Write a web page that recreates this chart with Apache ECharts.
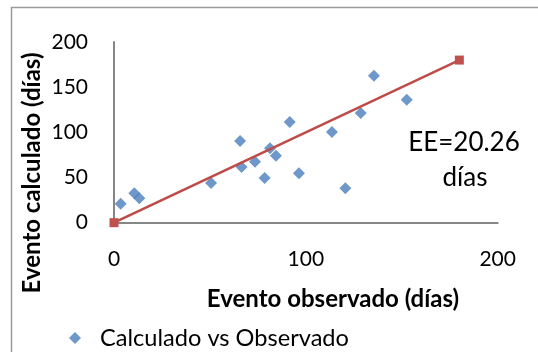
<!DOCTYPE html>
<html>
<head>
<meta charset="utf-8">
<script src="https://cdn.jsdelivr.net/npm/echarts@6/dist/echarts.min.js"></script>
<style>
html,body{margin:0;padding:0;background:#fff;}
#chart{width:538px;height:352px;}
</style>
</head>
<body>
<div id="chart"></div>
<script>
// Data
const observed   = [3.5, 10.6, 13.2, 50.6, 65.7, 66.5, 73.5, 78.5, 81.3, 84.4, 91.6, 96.4, 113.6, 120.6, 128.6, 135.5, 152.6];
const calculated = [21, 32.5, 27, 44, 90.4, 61.6, 67.5, 49.5, 82.3, 74.2, 111.5, 54.7, 100.4, 38, 121.4, 162.7, 136.1];
const lineX = [0, 180];
const lineY = [0, 180];
const xTicks = [0, 100, 200];
const yTicks = [0, 50, 100, 150, 200];
const seriesName = 'Calculado vs Observado';
const xTitle = 'Evento observado (días)';
const yTitle = 'Evento calculado (días)';
const annotation = ['EE=20.26', 'días'];

const FONT = 'Lato';
const chart = echarts.init(document.getElementById('chart'), null, {renderer: 'canvas'});
chart.setOption({
  animation: false,
  backgroundColor: '#fff',
  textStyle: {fontFamily: FONT},
  grid: {left: 114, top: 42, width: 383.7, height: 180.7, containLabel: false},
  xAxis: {
    type: 'value', min: xTicks[0], max: xTicks[xTicks.length - 1], interval: 100,
    axisLine: {show: true, onZero: false, lineStyle: {color: '#868686', width: 2}},
    axisTick: {show: false},
    splitLine: {show: false},
    axisLabel: {fontFamily: FONT, fontSize: 21, color: '#000', margin: 26}
  },
  yAxis: {
    type: 'value', min: yTicks[0], max: yTicks[yTicks.length - 1], interval: 50,
    axisLine: {show: true, onZero: false, lineStyle: {color: '#868686', width: 2}},
    axisTick: {show: false},
    splitLine: {show: false},
    axisLabel: {fontFamily: FONT, fontSize: 21, color: '#000', margin: 26}
  },
  legend: {
    data: [{name: seriesName, icon: 'diamond'}],
    left: 64, top: 321, itemWidth: 12, itemHeight: 12, itemGap: 10,
    textStyle: {fontFamily: FONT, fontSize: 23.6, color: '#000', padding: [0,0,0,14]}
  },
  series: [
    {
      name: seriesName, type: 'scatter',
      data: observed.map((x, i) => [x, calculated[i]]),
      symbol: 'diamond', symbolSize: [12, 12],
      itemStyle: {color: '#4a7ebb'}, z: 3
    },
    {
      name: 'linea', type: 'line',
      data: lineX.map((x, i) => [x, lineY[i]]),
      symbol: 'rect', symbolSize: 9, showSymbol: true,
      lineStyle: {color: '#be4b48', width: 2.5},
      itemStyle: {color: '#c0504d'}, z: 4
    }
  ],
  graphic: [
    {type: 'rect', silent: true, shape: {x: 11.5, y: 7.5, width: 700, height: 700},
     style: {fill: 'none', stroke: '#9a9a9a', lineWidth: 1.5}, z: -1},
    {type: 'text', x: 333, y: 299, style: {text: xTitle, font: 'bold 24px Lato', fill: '#000', textAlign: 'center', textVerticalAlign: 'middle'}},
    {type: 'text', x: 32, y: 173, rotation: Math.PI / 2, style: {text: yTitle, font: 'bold 24px Lato', fill: '#000', textAlign: 'center', textVerticalAlign: 'middle'}},
    {type: 'text', x: 464, y: 143, style: {text: annotation[0], font: '26px Lato', fill: '#000', textAlign: 'center', textVerticalAlign: 'middle'}},
    {type: 'text', x: 465, y: 178, style: {text: annotation[1], font: '26px Lato', fill: '#000', textAlign: 'center', textVerticalAlign: 'middle'}}
  ]
});
</script>
</body>
</html>
